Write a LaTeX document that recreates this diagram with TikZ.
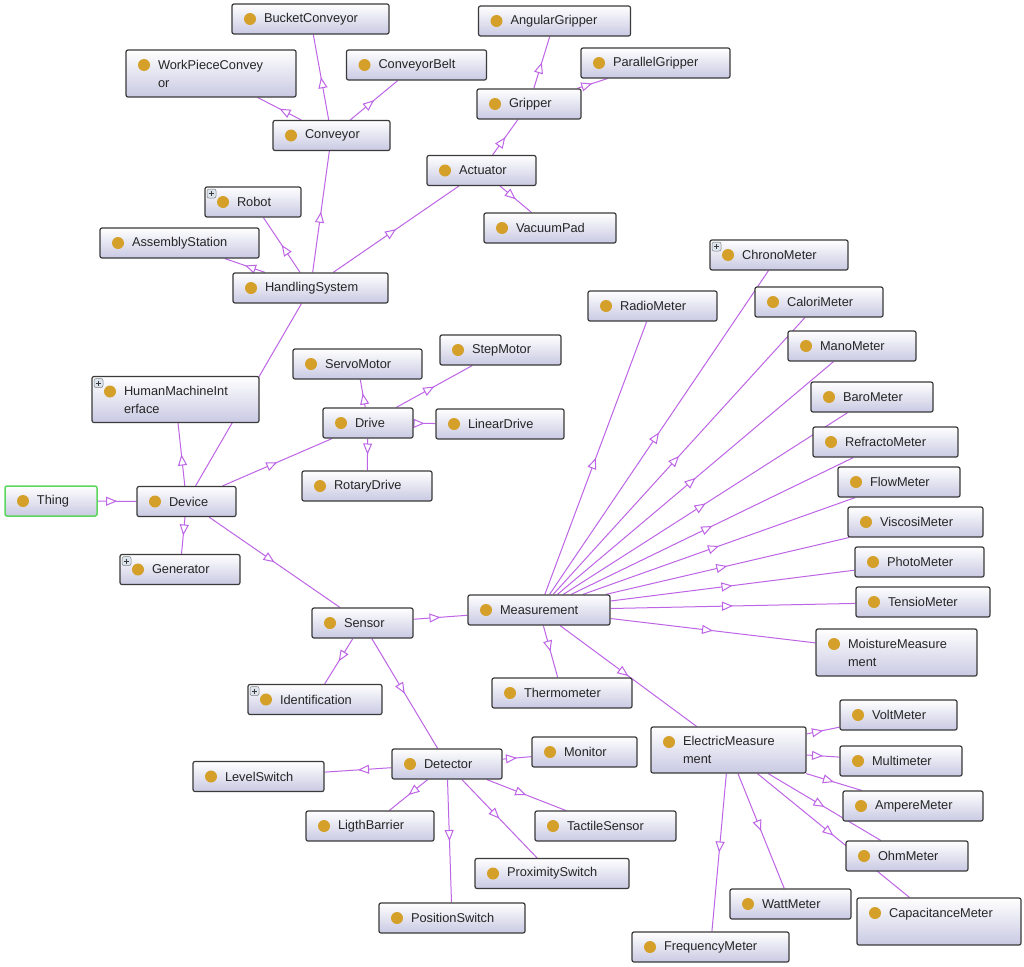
\documentclass[tikz,border=0pt]{standalone}
\usepackage{fontspec}
\setmainfont{Liberation Sans}
\usetikzlibrary{positioning, arrows.meta, decorations.markings, backgrounds}
\definecolor{Dark}{HTML}{3A3A3A}
\definecolor{Edge}{HTML}{BE64E6}
\definecolor{Gold}{HTML}{D4A02A}
\definecolor{Lavender}{HTML}{C9C9E3}
\definecolor{Light}{HTML}{DCE4EE}
\definecolor{Root}{HTML}{5BD75B}
\newcommand{\dotpic}{\fill[Gold] ([xshift=18pt,yshift=-15pt]path picture bounding box.north west) circle (6pt);}
\newcommand{\pluspic}{%
    \draw[draw=gray, fill=Light, line width=0.5pt] ([xshift=2pt,yshift=-2pt]path picture bounding box.north west) rectangle ++(9pt,-9pt);
    \draw[line width=0.8pt, Dark] ([xshift=4pt,yshift=-6.5pt]path picture bounding box.north west) -- ++(5pt,0)
        ([xshift=6.5pt,yshift=-4pt]path picture bounding box.north west) -- ++(0,-5pt);}
\tikzset{
    cls/.style={rectangle, rounded corners=2pt, draw=Dark, line width=1.2pt, top color=white, bottom color=Lavender,
        text=black!85, font=\fontsize{12.8}{18}\selectfont, inner sep=0pt, minimum height=30pt,
        text width=#1, minimum width=#1, align=left,
        execute at begin node={\leftskip=32pt\hyphenpenalty=10000\relax},
        path picture={\dotpic}},
    tall/.style={minimum height=47pt},
    plus/.style={path picture={\dotpic\pluspic}},
    root/.style={draw=Root, line width=1.5pt},
    isa/.style={draw=Edge, line width=1pt, postaction={decorate},
        decoration={markings, mark=at position 0.5 with {\arrow{Triangle[fill=white, length=11pt, width=9pt]}}}},
}
\begin{document}
\begin{tikzpicture}[x=1pt, y=-1pt]
    \useasboundingbox (0,0) rectangle (1024,966);

    % 1. Radice e Device
    \node[cls=92pt, root] (thing) at (51,501) {Thing};
    \node[cls=99pt] (device) at (186.5,501.5) {Device};
    \node[cls=120pt, plus] (generator) at (180,569.5) {Generator};
    \node[cls=167pt, tall, minimum height=46pt, plus] (hmi) at (175.5,399.5) {HumanMachineInt\\erface};

    % 2. Handling
    \node[cls=155pt] (handling) at (310.5,288) {HandlingSystem};
    \node[cls=159pt] (assembly) at (179.5,243) {AssemblyStation};
    \node[cls=96pt, plus] (robot) at (253,202) {Robot};
    \node[cls=117pt] (conveyor) at (331.5,135.5) {Conveyor};
    \node[cls=170pt, tall] (workpiece) at (211,73.5) {WorkPieceConvey\\or};
    \node[cls=157pt] (bucket) at (310.5,19) {BucketConveyor};
    \node[cls=140pt] (belt) at (416.5,65) {ConveyorBelt};
    \node[cls=109pt] (actuator) at (481.5,170.5) {Actuator};
    \node[cls=104pt] (gripper) at (529,104) {Gripper};
    \node[cls=152pt] (angular) at (554.5,21) {AngularGripper};
    \node[cls=149pt] (parallel) at (655.5,63) {ParallelGripper};
    \node[cls=132pt] (vacuum) at (550,228) {VacuumPad};

    % 3. Drive
    \node[cls=90pt] (drive) at (368,423) {Drive};
    \node[cls=129pt] (servo) at (357.5,364) {ServoMotor};
    \node[cls=121pt] (stepmotor) at (500.5,350) {StepMotor};
    \node[cls=128pt] (linear) at (500,424) {LinearDrive};
    \node[cls=130pt] (rotary) at (367,486) {RotaryDrive};

    % 4. Sensor e Detector
    \node[cls=101pt] (sensor) at (362.5,623) {Sensor};
    \node[cls=134pt, plus] (ident) at (315,699.5) {Identification};
    \node[cls=110pt] (detector) at (447,764) {Detector};
    \node[cls=131pt] (level) at (258.5,776.5) {LevelSwitch};
    \node[cls=128pt] (ligth) at (370,826) {LigthBarrier};
    \node[cls=146pt] (position) at (452,918) {PositionSwitch};
    \node[cls=154pt] (proximity) at (552,873.5) {ProximitySwitch};
    \node[cls=141pt] (tactile) at (605.5,826) {TactileSensor};
    \node[cls=105pt] (monitor) at (584.5,752) {Monitor};

    % 5. Measurement
    \node[cls=142pt] (meas) at (539,610) {Measurement};
    \node[cls=140pt] (thermo) at (562,693) {Thermometer};
    \node[cls=129pt] (radio) at (652.5,306) {RadioMeter};
    \node[cls=138pt, plus] (chrono) at (779,255) {ChronoMeter};
    \node[cls=128pt] (calori) at (819,302) {CaloriMeter};
    \node[cls=128pt] (mano) at (852,346) {ManoMeter};
    \node[cls=122pt] (baro) at (872,397) {BaroMeter};
    \node[cls=145pt] (refracto) at (885.5,442) {RefractoMeter};
    \node[cls=122pt] (flow) at (899,482) {FlowMeter};
    \node[cls=135pt] (viscosi) at (915.5,522) {ViscosiMeter};
    \node[cls=129pt] (photo) at (919.5,562) {PhotoMeter};
    \node[cls=134pt] (tensio) at (923,602) {TensioMeter};
    \node[cls=161pt, tall] (moisture) at (896.5,652.5) {MoistureMeasure\\ment};

    % 6. ElectricMeasurement
    \node[cls=155pt, tall, minimum height=46pt] (electric) at (728.5,750) {ElectricMeasure\\ment};
    \node[cls=117pt] (volt) at (898.5,715) {VoltMeter};
    \node[cls=122pt] (multi) at (901,761) {Multimeter};
    \node[cls=140pt] (ampere) at (913,806) {AmpereMeter};
    \node[cls=122pt] (ohm) at (907,856) {OhmMeter};
    \node[cls=164pt, tall, minimum height=47pt] (capac) at (939,921.5) {CapacitanceMeter\\\mbox{}};
    \node[cls=121pt] (watt) at (790.5,904) {WattMeter};
    \node[cls=157pt] (freq) at (710.5,947) {FrequencyMeter};

    % Archi (sotto i nodi)
    \begin{scope}[on background layer]
        \fill[white] (0,0) rectangle (1024,966);
        \draw[isa] (thing) -- (device);
        \foreach \c in {generator, hmi, handling, drive, sensor}
            \draw[isa] (device) -- (\c);
        \foreach \c in {assembly, robot, conveyor, actuator}
            \draw[isa] (handling) -- (\c);
        \foreach \c in {workpiece, bucket, belt}
            \draw[isa] (conveyor) -- (\c);
        \foreach \c in {gripper, vacuum}
            \draw[isa] (actuator) -- (\c);
        \foreach \c in {angular, parallel}
            \draw[isa] (gripper) -- (\c);
        \foreach \c in {servo, stepmotor, linear, rotary}
            \draw[isa] (drive) -- (\c);
        \foreach \c in {meas, ident, detector}
            \draw[isa] (sensor) -- (\c);
        \foreach \c in {level, ligth, position, proximity, tactile, monitor}
            \draw[isa] (detector) -- (\c);
        \foreach \c in {radio, chrono, calori, mano, baro, refracto, flow, viscosi, photo, tensio, moisture, thermo, electric}
            \draw[isa] (meas) -- (\c);
        \foreach \c in {volt, multi, ampere, ohm, capac, watt, freq}
            \draw[isa] (electric) -- (\c);
    \end{scope}
\end{tikzpicture}
\end{document}
